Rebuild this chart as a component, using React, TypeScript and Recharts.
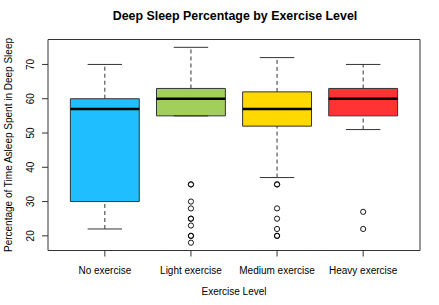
import { ComposedChart, XAxis, YAxis, Scatter, ReferenceArea, ReferenceLine } from 'recharts';

const categories = ['No exercise', 'Light exercise', 'Medium exercise', 'Heavy exercise'];
const whiskerLow = [22, 55, 37, 51];
const q1 = [30, 55, 52, 55];
const medians = [57, 60, 57, 60];
const q3 = [60, 63, 62, 63];
const whiskerHigh = [70, 75, 72, 70];
const boxColors = ['#1FBFFF', '#A2CF5B', '#FFD800', '#FF3333'];
// repeated values are drawn twice (they look bolder in the original)
const outlierValues = [
  [],
  [35, 35, 30, 28, 25, 25, 23, 20, 20, 18],
  [35, 35, 28, 25, 22, 20, 20],
  [27, 22],
];
const yTicks = [20, 30, 40, 50, 60, 70];
const xTicks = [1, 2, 3, 4];

const outliers = outlierValues.flatMap((vals, i) => vals.map(v => ({ x: i + 1, y: v })));

const FONT = '"Liberation Sans", Arial, sans-serif';

const YTick = ({ y, payload }: any) => (
  <text x={31} y={y} transform={`rotate(-90, 31, ${y})`} textAnchor="middle" dominantBaseline="central"
    fontSize={10} fontFamily={FONT} fill="#000">
    {payload.value}
  </text>
);

const XTick = ({ x, payload }: any) => (
  <text x={x} y={270} textAnchor="middle" dominantBaseline="central" fontSize={10} fontFamily={FONT} fill="#000">
    {categories[payload.value - 1]}
  </text>
);

const Circle = ({ cx, cy }: any) => (
  <circle cx={cx} cy={cy} r={2.6} fill="none" stroke="#000" strokeWidth={0.9} />
);

export default function App() {
  return (
    <div style={{ position: 'absolute', left: 0, top: 0, width: 439, height: 305, background: '#fff', fontFamily: FONT }}>
      <div style={{ position: 'absolute', left: 0, width: 470, top: 9, textAlign: 'center', fontWeight: 'bold', fontSize: 12.4 }}>
        Deep Sleep Percentage by Exercise Level
      </div>
      <div style={{ position: 'absolute', left: 0, width: 468, top: 286, textAlign: 'center', fontSize: 10 }}>
        Exercise Level
      </div>
      <div style={{
        position: 'absolute', left: 8, top: 145, fontSize: 10, whiteSpace: 'nowrap',
        transform: 'translate(-50%, -50%) rotate(-90deg)',
      }}>
        Percentage of Time Asleep Spent in Deep Sleep
      </div>
      <ComposedChart width={439} height={305} margin={{ top: 39.5, right: 19, bottom: 0, left: 0 }}
        style={{ position: 'absolute', left: 0, top: 0 }}>
        <XAxis type="number" dataKey="x" domain={[0.34, 4.66]} ticks={xTicks} allowDataOverflow
          height={54.5} axisLine={false} tickSize={6} tickLine={{ stroke: '#333' }} tick={<XTick />} interval={0} />
        <YAxis type="number" dataKey="y" domain={[15.72, 77.28]} ticks={yTicks} allowDataOverflow
          width={48} axisLine={false} tickSize={6} tickLine={{ stroke: '#333' }} tick={<YTick />} interval={0} />
        <ReferenceArea x1={0.34} x2={4.66} y1={15.72} y2={77.28} fill="none" fillOpacity={0}
          stroke="#333" strokeWidth={1} ifOverflow="visible" />
        {categories.map((c, i) => {
          const x = i + 1;
          return [
            <ReferenceLine key={c + 'wl'} segment={[{ x, y: whiskerLow[i] }, { x, y: q1[i] }]}
              stroke="#333" strokeDasharray="4 3" ifOverflow="visible" />,
            <ReferenceLine key={c + 'wh'} segment={[{ x, y: q3[i] }, { x, y: whiskerHigh[i] }]}
              stroke="#333" strokeDasharray="4 3" ifOverflow="visible" />,
            <ReferenceLine key={c + 'cl'} segment={[{ x: x - 0.2, y: whiskerLow[i] }, { x: x + 0.2, y: whiskerLow[i] }]}
              stroke="#333" ifOverflow="visible" />,
            <ReferenceLine key={c + 'ch'} segment={[{ x: x - 0.2, y: whiskerHigh[i] }, { x: x + 0.2, y: whiskerHigh[i] }]}
              stroke="#333" ifOverflow="visible" />,
            <ReferenceArea key={c + 'box'} x1={x - 0.4} x2={x + 0.4} y1={q1[i]} y2={q3[i]}
              fill={boxColors[i]} fillOpacity={1} stroke="#333" strokeWidth={1} ifOverflow="visible" />,
            <ReferenceLine key={c + 'med'} segment={[{ x: x - 0.4, y: medians[i] }, { x: x + 0.4, y: medians[i] }]}
              stroke="#000" strokeWidth={2.6} ifOverflow="visible" />,
          ];
        })}
        <Scatter data={outliers} dataKey="y" shape={<Circle />} isAnimationActive={false} />
      </ComposedChart>
    </div>
  );
}
